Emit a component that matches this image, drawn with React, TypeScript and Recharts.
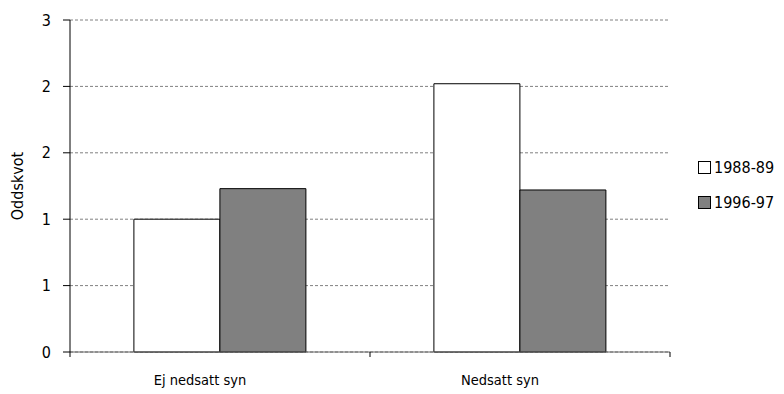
import React from 'react';
import { BarChart, Bar, XAxis, YAxis, CartesianGrid, Legend } from 'recharts';

const categories = ['Ej nedsatt syn', 'Nedsatt syn'];
const series1988 = [1.0, 2.02];
const series1996 = [1.23, 1.22];
const seriesNames = ['1988-89', '1996-97'];
const seriesColors = ['#ffffff', '#808080'];
const yTicks = [0, 0.5, 1, 1.5, 2, 2.5];
const boundaryTicks = [0, 1, 2];

const data = categories.map((c, i) => ({
  name: c,
  idx: i + 0.5,
  a: series1988[i],
  b: series1996[i],
}));

const FONT = "'DejaVu Sans Condensed', 'Liberation Sans Narrow', sans-serif";

const LegendContent = () => (
  <div style={{ fontFamily: FONT, fontSize: 16, color: '#000', lineHeight: '20px' }}>
    {seriesNames.map((n, i) => (
      <div key={n} style={{ display: 'flex', alignItems: 'center', height: 35 }}>
        <span
          style={{
            display: 'inline-block',
            width: 11,
            height: 11,
            border: '1px solid #000',
            background: seriesColors[i],
            marginRight: 3,
          }}
        />
        <span>{n}</span>
      </div>
    ))}
  </div>
);

export default function App() {
  return (
    <div style={{ position: 'absolute', left: 0, top: 0, background: '#fff' }}>
      <BarChart
        width={784}
        height={394}
        data={data}
        margin={{ top: 20, right: 28, bottom: 0, left: 0 }}
        barCategoryGap="21.3%"
        barGap={0}
      >
        <CartesianGrid xAxisId="cat" vertical={false} stroke="#808080" strokeDasharray="3 2" />
        <XAxis
          xAxisId="cat"
          dataKey="name"
          height={0.01}
          axisLine={false}
          tickLine={false}
          tickSize={0}
          tickMargin={23}
          tick={{ fill: '#000', fontSize: 14.5, fontFamily: FONT, dx: -20 }}
        />
        <XAxis
          xAxisId="edge"
          type="number"
          dataKey="idx"
          domain={[0, 2]}
          ticks={boundaryTicks}
          interval={0}
          tickFormatter={() => ''}
          height={41.99}
          tickSize={5}
          axisLine={{ stroke: '#606060' }}
          tickLine={{ stroke: '#000' }}
        />
        <YAxis
          width={70}
          domain={[0, 2.5]}
          ticks={yTicks}
          interval={0}
          tickFormatter={(v: number) => String(Math.round(v))}
          axisLine={{ stroke: '#000' }}
          tickLine={{ stroke: '#000' }}
          tickSize={7}
          tickMargin={12}
          tick={{ fill: '#000', fontSize: 16, fontFamily: FONT }}
          label={{
            value: 'Oddskvot',
            angle: -90,
            position: 'center',
            dx: -18,
            style: { fill: '#000', fontSize: 16, fontFamily: FONT },
          }}
        />
        <Legend
          layout="vertical"
          verticalAlign="top"
          align="right"
          content={<LegendContent />}
          wrapperStyle={{ left: 698, top: 150, width: 86 }}
        />
        <Bar xAxisId="cat" dataKey="a" name={seriesNames[0]} fill={seriesColors[0]} stroke="#000" strokeWidth={1} isAnimationActive={false} />
        <Bar xAxisId="cat" dataKey="b" name={seriesNames[1]} fill={seriesColors[1]} stroke="#000" strokeWidth={1} isAnimationActive={false} />
      </BarChart>
    </div>
  );
}
